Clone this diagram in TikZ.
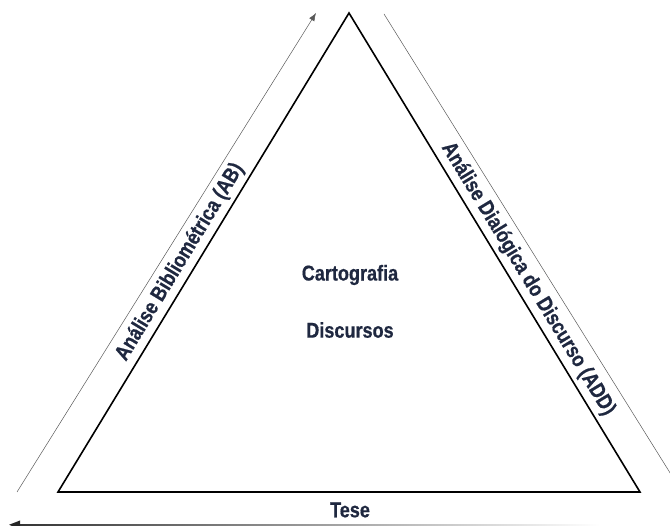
\documentclass[tikz,border=0pt]{standalone}
\usepackage{fontspec}
\newfontfamily\labfont[FakeStretch=0.84,FakeBold=0.6]{Liberation Sans}
\usetikzlibrary{arrows.meta}
\definecolor{navy}{HTML}{1F2840}
\tikzset{
  lab/.style={font=\labfont\bfseries\fontsize{21.5}{24}\selectfont, text=navy, inner sep=0pt},
  tri/.style={draw=black, line width=1.6pt, line join=miter},
  thin/.style={draw=black!65, line width=0.5pt},
}
\begin{document}
\begin{tikzpicture}[x=1pt,y=-1pt]
\useasboundingbox (0,0) rectangle (670,526);
% triangle corners
\coordinate (top) at (349,13);
\coordinate (bl) at (58,492);
\coordinate (br) at (640,492);
\draw[tri] (top) -- (br) -- (bl) -- cycle;
% thin lines
\coordinate (l1) at (17,492);
\coordinate (l2) at (316,13);
\draw[thin, -{Latex[length=8pt,width=6pt]}] (l1) -- (l2);
\coordinate (r1) at (384,14);
\coordinate (r2) at (672,476);
\draw[thin] (r1) -- (r2);
% bottom gradient arrow
\coordinate (b2) at (9,524.8);
\shade[left color=black!80, right color=white] (14,524.3) rectangle (600,525.3);
\fill[black!85] (b2) -- (20,520.5) -- (20,529) -- cycle;
% labels
\node[lab] (carto) at (350,275) {Cartografia};
\node[lab] (disc) at (350,330) {Discursos};
\node[lab] (tese) at (350,510) {Tese};
\node[lab, rotate=58.7] (ab) at (180,262) {Análise Bibliométrica (AB)};
\node[lab, rotate=-58.7] (add) at (528,279) {Análise Dialógica do Discurso (ADD)};
\end{tikzpicture}
\end{document}
